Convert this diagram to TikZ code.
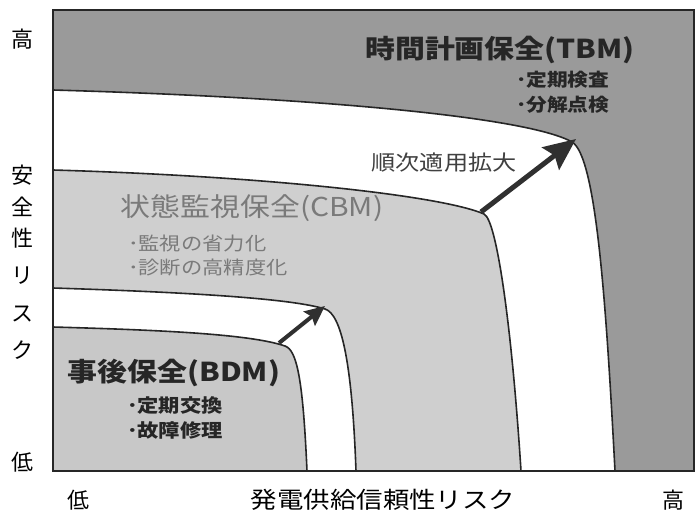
\documentclass[tikz,border=0pt]{standalone}
\usepackage{fontspec}
\usetikzlibrary{arrows.meta}
\newfontfamily\jp{Noto Sans CJK JP}[FakeStretch=1.15]
\newfontfamily\jpn{Noto Sans CJK JP}
\definecolor{tbmfill}{HTML}{9A9A9A}
\definecolor{cbmfill}{HTML}{CFCFCF}
\definecolor{bdmfill}{HTML}{C8C8C8}
\definecolor{darktxt}{HTML}{262626}
\definecolor{graytxt}{HTML}{7A7A7A}
\definecolor{arrowcol}{HTML}{303030}
\tikzset{
  lbl/.style={inner sep=0pt, outer sep=0pt},
  bigtitle/.style={lbl, font=\jp\bfseries\fontsize{26}{30}\selectfont, text=darktxt},
  cbmtitle/.style={lbl, font=\jp\fontsize{26}{30}\selectfont, text=graytxt},
  subitem/.style={lbl, anchor=west, font=\jp\bfseries\fontsize{18}{21}\selectfont, text=darktxt},
  cbmitem/.style={lbl, anchor=west, font=\jp\fontsize{18.5}{21}\selectfont, text=graytxt},
  axislbl/.style={lbl, font=\jpn\fontsize{22}{24}\selectfont, text=black},
  axiswide/.style={lbl, font=\jp\fontsize{23}{26}\selectfont, text=black},
  boundary/.style={line width=1.6pt, draw=black!85},
  growarrow/.style={draw=arrowcol, line width=5pt, -{Stealth[length=32pt,width=28pt,inset=5pt]}},
  smallarrow/.style={draw=arrowcol, line width=4pt, -{Stealth[length=20pt,width=18pt,inset=3pt]}}
}
\begin{document}
\begin{tikzpicture}[x=1pt,y=-1pt]
\useasboundingbox (0,0) rectangle (698,520);
% regions
\fill[tbmfill] (53,10) rectangle (694,471);
\fill[white] (53,90) .. controls (330,98) and (530,118) .. (572,142)
  .. controls (596,156) and (606,300) .. (615,471) -- (53,471) -- cycle;
\fill[cbmfill] (53,170) .. controls (260,176) and (440,195) .. (484,214)
  .. controls (497,220) and (512,330) .. (521,471) -- (53,471) -- cycle;
\fill[white] (53,288) .. controls (180,292) and (290,298) .. (325,309)
  .. controls (341,314) and (352,360) .. (356,471) -- (53,471) -- cycle;
\fill[bdmfill] (53,327) .. controls (160,330) and (250,334) .. (285,346)
  .. controls (297,350) and (303,380) .. (307,471) -- (53,471) -- cycle;
% boundaries
\draw[boundary] (53,90) .. controls (330,98) and (530,118) .. (572,142)
  .. controls (596,156) and (606,300) .. (615,471);
\draw[boundary] (53,170) .. controls (260,176) and (440,195) .. (484,214)
  .. controls (497,220) and (512,330) .. (521,471);
\draw[boundary] (53,288) .. controls (180,292) and (290,298) .. (325,309)
  .. controls (341,314) and (352,360) .. (356,471);
\draw[boundary] (53,327) .. controls (160,330) and (250,334) .. (285,346)
  .. controls (297,350) and (303,380) .. (307,471);
\draw[line width=2pt, draw=black!85] (53,10) rectangle (694,471);
% arrows
\coordinate (a1s) at (279,343);
\coordinate (a1e) at (325,306);
\coordinate (a2s) at (481,212);
\coordinate (a2e) at (576,139);
\draw[smallarrow] (a1s) -- (a1e);
\draw[growarrow] (a2s) -- (a2e);
% texts
\node[bigtitle] (tbm) at (500,50) {時間計画保全(TBM)};
\node[subitem] (tbm1) at (516,80) {･定期検査};
\node[subitem] (tbm2) at (516,105) {･分解点検};
\node[lbl, font=\jp\fontsize{21}{24}\selectfont, text=black!75] (grow) at (444,163) {順次適用拡大};
\node[cbmtitle] (cbm) at (252,208) {状態監視保全(CBM)};
\node[cbmitem] (cbm1) at (128,243) {･監視の省力化};
\node[cbmitem] (cbm2) at (128,268) {･診断の高精度化};
\node[bigtitle] (bdm) at (174,373) {事後保全(BDM)};
\node[subitem, font=\jp\bfseries\fontsize{18.5}{21}\selectfont] (bdm1) at (127,405) {･定期交換};
\node[subitem, font=\jp\bfseries\fontsize{18.5}{21}\selectfont] (bdm2) at (127,430) {･故障修理};
% axes
\node[axislbl] (yhigh) at (22,39) {高};
\node[axislbl] (y1) at (22,175) {安};
\node[axislbl] (y2) at (22,207) {全};
\node[axislbl] (y3) at (22,238) {性};
\node[axislbl] (y4) at (22,276) {リ};
\node[axislbl] (y5) at (22,314) {ス};
\node[axislbl] (y6) at (22,350) {ク};
\node[axislbl] (ylow) at (22,462) {低};
\node[axislbl] (xlow) at (78,500) {低};
\node[axiswide] (xlbl) at (383,500) {発電供給信頼性リスク};
\node[axislbl] (xhigh) at (673,500) {高};
\end{tikzpicture}
\end{document}
